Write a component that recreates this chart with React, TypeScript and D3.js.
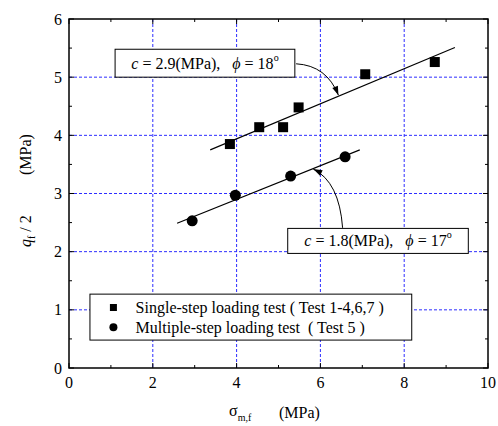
import React from "react";
import * as d3 from "d3";

// Data
const singleX = [3.84, 4.54, 5.11, 5.48, 7.07, 8.73];
const singleY = [3.85, 4.14, 4.14, 4.48, 5.05, 5.26];
const multiX = [2.94, 3.97, 5.29, 6.59];
const multiY = [2.53, 2.97, 3.30, 3.63];
const fitSingleX = [3.37, 9.21];
const fitSingleY = [3.75, 5.51];
const fitMultiX = [2.58, 6.94];
const fitMultiY = [2.49, 3.75];
const xTicks = [0, 2, 4, 6, 8, 10];
const yTicks = [0, 1, 2, 3, 4, 5, 6];
const xMinor = [1, 3, 5, 7, 9];
const yMinor = [0.5, 1.5, 2.5, 3.5, 4.5, 5.5];
const legendLabels = ["Single-step loading test ( Test 1-4,6,7 )", "Multiple-step loading test \u00a0( Test 5 )"];

const W = 498, H = 426;
const L = 69, R = 488, T = 19, B = 368;
const FONT = "'Liberation Serif', 'Times New Roman', Times, 'DejaVu Serif', serif";
const GRID = "#2d2dff";

export default function App() {
  const x = d3.scaleLinear().domain([0, 10]).range([L, R]);
  const y = d3.scaleLinear().domain([0, 6]).range([B, T]);
  const line = d3.line<[number, number]>().x(d => x(d[0])).y(d => y(d[1]));

  const curve = (p0: number[], c: number[], p1: number[]) =>
    `M${x(p0[0])},${y(p0[1])} Q${x(c[0])},${y(c[1])} ${x(p1[0])},${y(p1[1])}`;
  const arrowHead = (c: number[], p1: number[]) => {
    const tx = x(p1[0]), ty = y(p1[1]);
    const dx = tx - x(c[0]), dy = ty - y(c[1]);
    const len = Math.hypot(dx, dy);
    const ux = dx / len, uy = dy / len;
    const al = 9, aw = 3;
    const bx = tx - ux * al, by = ty - uy * al;
    return `M${tx},${ty} L${bx - uy * aw},${by + ux * aw} L${bx + uy * aw},${by - ux * aw} Z`;
  };

  const upArrow = { p0: [5.42, 5.23], c: [6.15, 5.2], p1: [6.43, 4.69] };
  const loArrow = { p0: [6.53, 2.41], c: [6.45, 3.2], p1: [5.83, 3.42] };

  return (
    <svg width={W} height={H} style={{ position: "absolute", left: 0, top: 0, background: "#fff", fontFamily: FONT }}>
      {/* grid */}
      {[2, 4, 6, 8].map(v => (
        <line key={"gx" + v} x1={x(v)} x2={x(v)} y1={T} y2={B} stroke={GRID} strokeWidth={1} strokeDasharray="3,2" />
      ))}
      {[1, 2, 3, 4, 5].map(v => (
        <line key={"gy" + v} x1={L} x2={R} y1={y(v)} y2={y(v)} stroke={GRID} strokeWidth={1} strokeDasharray="3,2" />
      ))}
      {/* fit lines */}
      <path d={line(fitSingleX.map((v, i) => [v, fitSingleY[i]]) as any) || ""} stroke="#000" strokeWidth={1.1} fill="none" />
      <path d={line(fitMultiX.map((v, i) => [v, fitMultiY[i]]) as any) || ""} stroke="#000" strokeWidth={1.1} fill="none" />
      {/* points */}
      {singleX.map((v, i) => (
        <rect key={"s" + i} x={x(v) - 5} y={y(singleY[i]) - 5} width={10} height={10} fill="#000" />
      ))}
      {multiX.map((v, i) => (
        <circle key={"m" + i} cx={x(v)} cy={y(multiY[i])} r={5.5} fill="#000" />
      ))}
      {/* axes frame */}
      <rect x={L} y={T} width={R - L} height={B - T} fill="none" stroke="#000" strokeWidth={1.5} />
      {/* ticks */}
      {xTicks.map(v => (
        <g key={"xt" + v}>
          <line x1={x(v)} x2={x(v)} y1={B} y2={B - 5} stroke="#000" strokeWidth={1} />
          <line x1={x(v)} x2={x(v)} y1={T} y2={T + 5} stroke="#000" strokeWidth={1} />
          <text x={x(v)} y={B + 20} fontSize={16} textAnchor="middle">{v}</text>
        </g>
      ))}
      {xMinor.map(v => (
        <g key={"xm" + v}>
          <line x1={x(v)} x2={x(v)} y1={B} y2={B - 3} stroke="#000" strokeWidth={1} />
          <line x1={x(v)} x2={x(v)} y1={T} y2={T + 3} stroke="#000" strokeWidth={1} />
        </g>
      ))}
      {yTicks.map(v => (
        <g key={"yt" + v}>
          <line x1={L} x2={L + 5} y1={y(v)} y2={y(v)} stroke="#000" strokeWidth={1} />
          <line x1={R} x2={R - 5} y1={y(v)} y2={y(v)} stroke="#000" strokeWidth={1} />
          <text x={L - 7} y={y(v) + 5.5} fontSize={16} textAnchor="end">{v}</text>
        </g>
      ))}
      {yMinor.map(v => (
        <g key={"ym" + v}>
          <line x1={L} x2={L + 3} y1={y(v)} y2={y(v)} stroke="#000" strokeWidth={1} />
          <line x1={R} x2={R - 3} y1={y(v)} y2={y(v)} stroke="#000" strokeWidth={1} />
        </g>
      ))}
      {/* annotation boxes */}
      <rect x={x(1.1)} y={y(5.48)} width={x(5.39) - x(1.1)} height={y(5.0) - y(5.48)} fill="#fff" stroke="#000" strokeWidth={1} />
      <text x={(x(1.1) + x(5.39)) / 2} y={y(5.0) - 8} fontSize={16} textAnchor="middle">
        <tspan fontStyle="italic">c</tspan> = 2.9(MPa),{"\u00a0\u00a0\u00a0"}<tspan fontStyle="italic">ϕ</tspan> = 18<tspan fontSize={10} dy={-8}>o</tspan>
      </text>
      <rect x={x(5.22)} y={y(2.4)} width={x(9.53) - x(5.22)} height={y(1.97) - y(2.4)} fill="#fff" stroke="#000" strokeWidth={1} />
      <text x={(x(5.22) + x(9.53)) / 2} y={y(1.97) - 7} fontSize={16} textAnchor="middle">
        <tspan fontStyle="italic">c</tspan> = 1.8(MPa),{"\u00a0\u00a0\u00a0"}<tspan fontStyle="italic">ϕ</tspan> = 17<tspan fontSize={10} dy={-8}>o</tspan>
      </text>
      {/* arrows */}
      <path d={curve(upArrow.p0, upArrow.c, upArrow.p1)} fill="none" stroke="#000" strokeWidth={1} />
      <path d={arrowHead(upArrow.c, upArrow.p1)} fill="#000" />
      <path d={curve(loArrow.p0, loArrow.c, loArrow.p1)} fill="none" stroke="#000" strokeWidth={1} />
      <path d={arrowHead(loArrow.c, loArrow.p1)} fill="#000" />
      {/* legend */}
      <rect x={x(0.5)} y={y(1.27)} width={x(8.18) - x(0.5)} height={y(0.48) - y(1.27)} fill="#fff" stroke="#000" strokeWidth={1} />
      <rect x={x(1.06) - 3.5} y={y(1.04) - 3.5} width={7} height={7} fill="#000" />
      <circle cx={x(1.06)} cy={y(0.7)} r={4} fill="#000" />
      <text x={x(1.59)} y={y(1.04) + 5.5} fontSize={16}>{legendLabels[0]}</text>
      <text x={x(1.59)} y={y(0.7) + 5.5} fontSize={16}>{legendLabels[1]}</text>
      {/* axis labels */}
      <text transform={`translate(${31},${247}) rotate(-90)`} fontSize={16} textAnchor="start">
        <tspan fontStyle="italic">q</tspan><tspan fontSize={10} dy={4}>f</tspan><tspan dy={-4}>{"\u00a0/\u00a02"}</tspan>
      </text>
      <text transform={`translate(${31},${175}) rotate(-90)`} fontSize={16} textAnchor="start">(MPa)</text>
      <text x={229} y={416} fontSize={16}>
        σ<tspan fontSize={10} dy={5}>m,f</tspan>
      </text>
      <text x={279} y={418} fontSize={16}>(MPa)</text>
    </svg>
  );
}
